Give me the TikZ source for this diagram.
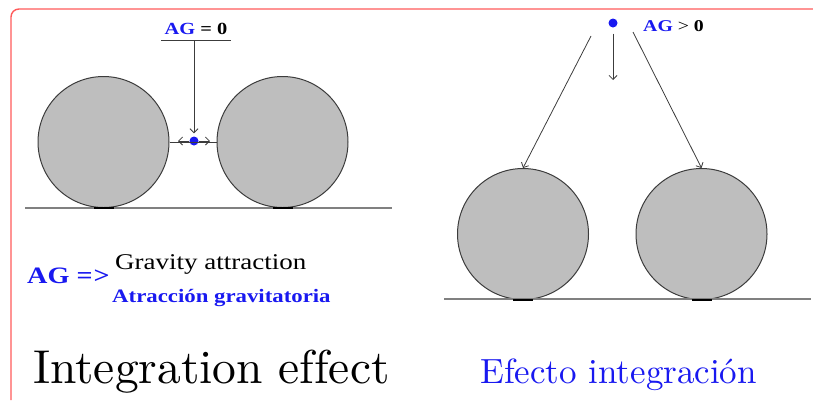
\documentclass[tikz,border=0pt]{standalone}
\usepackage{fontspec}
\usepackage{tikz}
\usetikzlibrary{arrows.meta}
\newfontfamily\tms[FakeStretch=1.2]{Liberation Serif}
\newfontfamily\lmten[Ligatures=NoCommon]{lmroman10-regular.otf}
\definecolor{agblue}{RGB}{25,25,240}
\definecolor{ballgray}{RGB}{190,190,190}
\definecolor{edgegray}{RGB}{60,60,60}
\definecolor{framered}{RGB}{255,90,90}

\begin{document}
\begin{tikzpicture}[
  x=1pt, y=-1pt,
  ball/.style={circle, draw=edgegray, fill=ballgray, line width=1pt, minimum size=131pt, inner sep=0pt},
  dot/.style={circle, fill=agblue, minimum size=9pt, inner sep=0pt},
  txt/.style={inner sep=0pt, anchor=base west},
  arrow/.style={-{Straight Barb[length=4pt, width=8pt]}, draw=edgegray, line width=0.8pt},
  line/.style={draw=edgegray, line width=0.8pt},
  ground/.style={draw=gray, line width=1.3pt},
  contact/.style={draw=black, line width=1.6pt}
]
\useasboundingbox (0,0) rectangle (813,400);
% frame
\draw[framered, line width=1.4pt, rounded corners=8pt] (11,400) -- (11,9) -- (813,9);

% left panel
\node[ball] (l1) at (103.5,142) {};
\node[ball] (l2) at (282.5,142) {};
\node[dot] (dot0) at (194,141) {};
\node[txt, anchor=base, inner xsep=3pt] (lab0) at (196,34.5)
  {\tms\fontsize{17}{19}\selectfont\bfseries\textcolor{agblue}{AG} = 0};
\coordinate (ul0) at ([yshift=-5.5pt]lab0.base);
\coordinate (g0a) at (25,208);
\coordinate (g0b) at (392,208);
\coordinate (tl0) at (178,141);
\coordinate (tr0) at (210,141);
\node[txt] (ag) at (27,283)
  {\tms\fontsize{23.5}{25}\selectfont\bfseries\textcolor{agblue}{AG =\kern1pt>}};
\node[txt] (grav) at (115,269)
  {\tms\fontsize{22.5}{24}\selectfont Gravity attraction};
\node[txt] (atrac) at (112,302)
  {\tms\fontsize{19}{21}\selectfont\bfseries\textcolor{agblue}{Atracción gravitatoria}};
\node[txt] (integ) at (33,383)
  {\lmten\fontsize{47.5}{50}\selectfont Integration effect};

\draw[ground] (g0a) -- (g0b);
\draw[contact] ([xshift=-10pt]l1.south) -- ([xshift=10pt]l1.south);
\draw[contact] ([xshift=-10pt]l2.south) -- ([xshift=10pt]l2.south);
\draw[edgegray, line width=0.9pt] ([yshift=-5.5pt]lab0.base west) -- ([yshift=-5.5pt]lab0.base east);
\draw[arrow, shorten >=3pt] (ul0 -| dot0) -- (dot0.north);
\draw[line] (l1.east) -- (l2.west);
\draw[arrow] (dot0.west) -- (tl0);
\draw[arrow] (dot0.east) -- (tr0);

% right panel
\node[ball] (r1) at (523,234) {};
\node[ball] (r2) at (701.5,234) {};
\node[dot] (dot1) at (613,23) {};
\node[txt] (lab1) at (643,31)
  {\tms\fontsize{16.5}{18}\selectfont\textcolor{agblue}{\bfseries AG} > \textbf{0}};
\coordinate (g1a) at (444,299);
\coordinate (g1b) at (811,299);
\coordinate (s1) at (591,36);
\coordinate (s2) at (633,32);
\coordinate (v1) at (613,80);
\node[txt] (efec) at (480,383)
  {\lmten\fontsize{35}{40}\selectfont\textcolor{agblue}{Efecto integración}};

\draw[ground] (g1a) -- (g1b);
\draw[contact] ([xshift=-10pt]r1.south) -- ([xshift=10pt]r1.south);
\draw[contact] ([xshift=-10pt]r2.south) -- ([xshift=10pt]r2.south);
\draw[arrow] ([yshift=-6pt]dot1.south) -- (v1);
\draw[arrow] (s1) -- (r1.north);
\draw[arrow] (s2) -- (r2.north);
\end{tikzpicture}
\end{document}
